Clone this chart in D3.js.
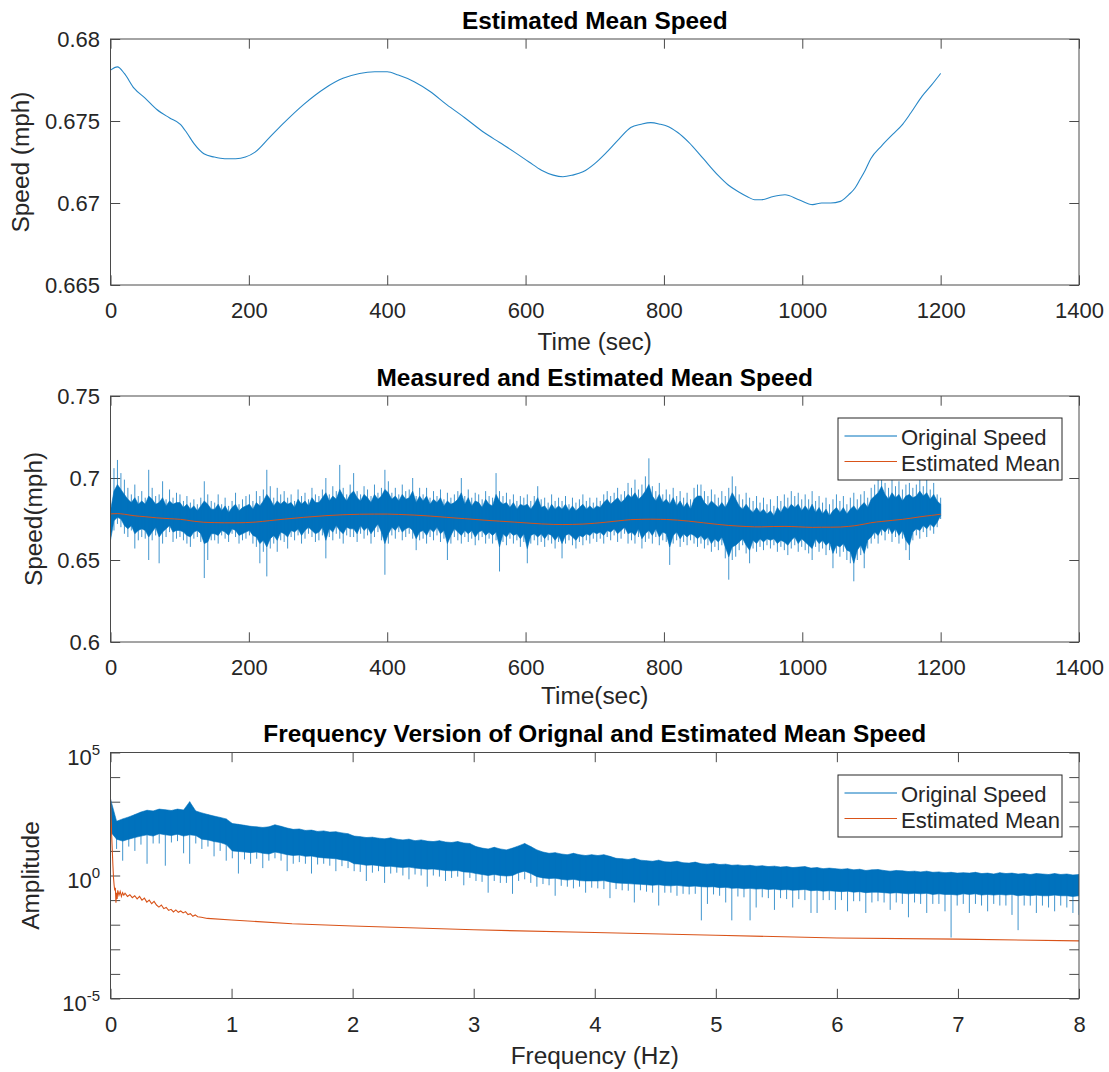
<!DOCTYPE html>
<html><head><meta charset="utf-8">
<script src="https://cdn.jsdelivr.net/npm/d3@7"></script>
<style>
html,body{margin:0;padding:0;background:#fff;}
svg{display:block;font-family:"Liberation Sans",Arial,Helvetica,sans-serif;}
</style></head><body>
<svg id="fig" width="1109" height="1072"></svg>
<script>
// ---- Estimated mean speed (smooth trend), time in seconds ----
const meanTime = [0,10,20,34,50,67,85,101,110,121,135,150,165,181,195,209,230,251,279,310,336,360,382,400,416,439,462,486,512,540,562,584,605,623,640,654,668,683,700,715,735,752,767,781,795,804,820,836,857,878,893,907,920,931,941,958,975,995,1015,1028,1041,1055,1067,1076,1083,1091,1099,1115,1131,1145,1157,1173,1187,1200];
const meanSpeed = [.6781,.6783,.6779,.6770,.6764,.6757,.6752,.6748,.6743,.6736,.6730,.6728,.6727,.6727,.6728,.6731,.6740,.6749,.6760,.6770,.6776,.6779,.6780,.6780,.6778,.6774,.6768,.6760,.6752,.6743,.6737,.6731,.6725,.6720,.6717,.6716,.6717,.6719,.6724,.6730,.6739,.6746,.6748,.6749,.6748,.6747,.6743,.6737,.6727,.6717,.6711,.6707,.6704,.6702,.6702,.6704,.6705,.6702,.6699,.6700,.6700,.6701,.6705,.6709,.6714,.6720,.6727,.6735,.6742,.6748,.6755,.6765,.6772,.6779];

// ---- Measured speed, 240 bins of 5 s over 0-1200 s (mph) ----
// highest / lowest sample in each bin
const speedHigh = [
.690,.706,.711,.703,.699,.694,.690,.696,.689,.692, .688,.705,.694,.689,.690,.698,.687,.693,.688,.691,
.690,.686,.689,.685,.687,.684,.688,.698,.690,.686, .685,.690,.684,.688,.683,.686,.691,.684,.687,.689,
.690,.686,.692,.689,.693,.705,.695,.688,.694,.690, .692,.688,.690,.686,.693,.689,.691,.687,.694,.690,
.689,.693,.700,.690,.695,.692,.708,.694,.690,.696, .703,.692,.690,.695,.693,.689,.696,.691,.694,.705,
.698,.691,.694,.690,.696,.692,.693,.700,.689,.694, .690,.694,.688,.692,.689,.693,.687,.691,.688,.690,
.692,.700,.689,.693,.688,.691,.690,.687,.692,.689, .688,.703,.692,.689,.691,.687,.690,.686,.689,.688,
.690,.686,.689,.695,.687,.688,.685,.690,.686,.688, .686,.689,.684,.688,.685,.687,.690,.686,.688,.685,
.688,.686,.690,.692,.689,.691,.694,.690,.692,.697, .694,.699,.693,.696,.701,.712,.695,.692,.697,.690,
.693,.690,.694,.689,.692,.688,.691,.687,.694,.696, .696,.692,.689,.693,.690,.688,.692,.689,.694,.701,
.695,.690,.687,.691,.688,.686,.689,.685,.688,.684, .687,.683,.689,.686,.690,.688,.692,.689,.691,.687,
.690,.687,.692,.686,.689,.685,.688,.684,.687,.690, .686,.689,.684,.688,.691,.687,.690,.692,.688,.694,
.696,.699,.708,.697,.694,.699,.695,.698,.693,.696, .697,.694,.696,.700,.695,.699,.693,.697,.690,.688];
const speedLow = [
.655,.668,.672,.670,.666,.664,.668,.657,.662,.664, .663,.650,.662,.665,.648,.660,.664,.667,.661,.663,
.664,.662,.660,.658,.663,.664,.661,.639,.650,.662, .662,.660,.665,.663,.661,.666,.664,.660,.662,.663,
.665,.660,.658,.648,.655,.640,.657,.660,.655,.662, .661,.657,.664,.662,.665,.660,.663,.666,.664,.661,
.662,.665,.651,.664,.662,.666,.663,.660,.665,.664, .664,.661,.666,.663,.665,.660,.664,.667,.662,.641,
.660,.665,.663,.667,.662,.664,.666,.663,.656,.662, .663,.660,.664,.662,.665,.661,.663,.650,.660,.664,
.662,.660,.664,.661,.663,.659,.662,.664,.660,.663, .660,.662,.643,.661,.659,.663,.660,.662,.658,.661,
.648,.660,.662,.659,.661,.658,.662,.660,.657,.661, .651,.660,.662,.659,.657,.661,.659,.662,.660,.663,
.661,.663,.660,.664,.662,.665,.661,.663,.666,.660, .662,.660,.664,.657,.661,.663,.660,.664,.659,.662,
.661,.647,.660,.662,.658,.661,.659,.662,.660,.658, .660,.657,.659,.655,.658,.656,.659,.651,.638,.650,
.652,.656,.659,.654,.648,.657,.655,.658,.656,.659, .657,.659,.655,.658,.656,.653,.657,.659,.655,.658,
.656,.654,.650,.658,.655,.657,.653,.656,.645,.654, .652,.655,.650,.648,.637,.650,.653,.645,.657,.660,
.663,.660,.665,.662,.666,.661,.664,.660,.663,.656, .650,.662,.665,.663,.667,.664,.668,.666,.670,.675];
// upper / lower edge of the dense bulk of samples in each bin
const speedCoreHigh = [
.680,.692,.696,.693,.690,.687,.685,.688,.684,.686, .684,.689,.687,.684,.685,.688,.683,.686,.684,.685,
.685,.682,.684,.681,.683,.680,.683,.686,.684,.681, .681,.684,.680,.683,.679,.682,.684,.680,.682,.683,
.684,.681,.685,.683,.686,.690,.687,.683,.686,.684, .686,.684,.685,.682,.687,.684,.686,.683,.688,.685,
.685,.688,.691,.686,.689,.687,.693,.689,.686,.690, .692,.688,.686,.690,.688,.685,.690,.687,.689,.693,
.691,.687,.689,.686,.690,.687,.688,.692,.685,.689, .686,.689,.684,.687,.685,.688,.683,.686,.684,.685,
.687,.691,.684,.688,.683,.686,.685,.682,.687,.684, .683,.690,.686,.684,.685,.682,.685,.681,.684,.683,
.684,.681,.684,.688,.682,.683,.680,.684,.681,.683, .681,.684,.680,.683,.680,.682,.684,.681,.683,.681,
.683,.682,.685,.687,.684,.686,.688,.685,.687,.690, .688,.691,.687,.689,.692,.696,.689,.686,.690,.685,
.687,.684,.688,.683,.686,.682,.685,.681,.687,.689, .689,.685,.683,.686,.684,.682,.685,.682,.686,.691,
.687,.683,.681,.684,.681,.679,.682,.679,.681,.678, .680,.677,.682,.679,.683,.681,.684,.682,.684,.680,
.683,.680,.684,.679,.682,.678,.681,.677,.680,.682, .679,.682,.678,.681,.683,.680,.683,.685,.682,.687,
.689,.691,.695,.690,.687,.691,.688,.690,.686,.689, .690,.688,.689,.692,.689,.691,.687,.690,.686,.684];
const speedCoreLow = [
.662,.674,.676,.675,.671,.669,.671,.666,.668,.669, .668,.664,.667,.670,.664,.667,.669,.671,.667,.668,
.668,.667,.665,.664,.667,.668,.666,.660,.661,.666, .666,.665,.668,.667,.665,.669,.668,.665,.666,.667,
.668,.665,.664,.660,.662,.658,.663,.665,.662,.667, .666,.664,.668,.667,.669,.665,.668,.670,.668,.666,
.667,.670,.662,.669,.667,.671,.668,.666,.670,.669, .669,.666,.671,.668,.670,.666,.669,.672,.667,.660,
.666,.670,.668,.671,.667,.669,.670,.668,.663,.667, .668,.665,.669,.667,.670,.666,.668,.660,.665,.669,
.667,.665,.668,.666,.668,.664,.667,.668,.665,.667, .665,.667,.658,.666,.664,.667,.665,.666,.663,.666,
.657,.665,.666,.664,.666,.663,.666,.665,.662,.665, .660,.665,.666,.664,.662,.665,.664,.666,.665,.667,
.666,.667,.665,.668,.667,.669,.666,.668,.670,.666, .667,.665,.669,.663,.666,.668,.665,.669,.664,.667,
.666,.658,.665,.667,.663,.666,.664,.666,.665,.663, .665,.662,.664,.660,.663,.661,.664,.658,.652,.658,
.659,.661,.663,.659,.656,.662,.660,.663,.661,.663, .662,.663,.660,.662,.661,.659,.662,.664,.660,.663,
.661,.659,.657,.663,.660,.662,.659,.661,.654,.659, .658,.660,.656,.655,.648,.656,.659,.654,.662,.664,
.667,.665,.669,.667,.670,.666,.669,.665,.668,.662, .659,.667,.669,.668,.671,.669,.672,.670,.673,.677];

// ---- Spectrum of measured speed, 160 bins over 0-8 Hz ----
// upper edge of the band in each bin
const specHigh = [
1300,160,200,240,300,380,450,420,500,470,440,500,460,1000,420,350,300,260,230,200,
130,120,110,100,95,90,95,115,100,85,75,78,68,70,62,65,58,60,54,50,
40,38,35,36,33,31,34,30,28,30,26,28,25,24,26,23,22,24,21,20,
15,13,12,14,12,11,13,16,20,15,11,9,8,8.5,7.5,7,8,7,6.5,7,
6.5,7,6,5,4.8,4.5,5,4.2,4,3.8,4.2,3.6,3.5,3.8,3.3,3.2,3.5,3,2.9,3.1,
2.8,2.9,2.6,2.7,2.5,2.6,2.4,2.5,2.3,2.4,2.2,2.3,2.1,2.2,2.3,2.0,2.1,1.9,2.0,1.9,
1.8,1.9,1.7,1.8,1.6,1.7,1.75,1.6,1.5,1.6,1.55,1.45,1.5,1.4,1.5,1.35,1.4,1.3,1.35,1.25,
1.3,1.25,1.35,1.2,1.25,1.15,1.3,1.2,1.25,1.15,1.2,1.1,1.2,1.15,1.1,1.2,1.1,1.15,1.05,1.1];
// lower edge of the dense band in each bin
const specCoreLow = [
60,30,25,30,35,40,45,40,50,45,42,48,40,45,42,30,28,24,22,18,
10,9.5,9,8.5,9,8,7.5,9,8,7,6.5,6.8,6,6.2,5.5,5.2,5,4.8,4.3,4,
3,2.9,2.6,2.7,2.5,2.3,2.4,2.2,2.1,2.2,2,1.9,1.8,1.85,1.7,1.6,1.55,1.6,1.4,1.35,
1.2,1.1,1,1.1,1,0.95,1,1.3,1.5,1.2,0.9,0.8,0.75,0.78,0.7,0.65,0.7,0.62,0.6,0.6,
0.6,0.62,0.55,0.5,0.48,0.47,0.45,0.44,0.42,0.4,0.42,0.39,0.38,0.4,0.37,0.36,0.37,0.35,0.34,0.35,
0.32,0.33,0.3,0.31,0.29,0.3,0.28,0.29,0.27,0.28,0.26,0.27,0.25,0.26,0.27,0.24,0.25,0.23,0.24,0.23,
0.22,0.23,0.21,0.22,0.2,0.21,0.21,0.2,0.19,0.2,0.19,0.18,0.19,0.18,0.19,0.17,0.18,0.17,0.17,0.16,
0.18,0.17,0.18,0.16,0.17,0.16,0.17,0.16,0.17,0.15,0.16,0.15,0.16,0.15,0.15,0.16,0.15,0.15,0.14,0.15];
// lowest value in each bin
const specLow = [
40,12,4,15,10,18,3,20,20,2.5,22,25,8,3,20,12,15,6,10,4,
5,1.2,4.5,3,4.8,2,4,5,4,1.5,3,3.5,3,1.2,2.8,3,2.5,1.5,2.4,2,
1.5,1.4,0.6,1.3,1.5,0.5,1.2,1.3,1,0.7,1.1,1,0.35,1,0.9,0.6,0.8,0.9,0.4,0.8,
0.6,0.55,0.2,0.6,0.5,0.5,0.18,0.6,0.7,0.5,0.35,0.45,0.4,0.15,0.38,0.35,0.3,0.35,0.2,0.32,
0.3,0.28,0.12,0.28,0.25,0.24,0.08,0.25,0.22,0.2,0.06,0.2,0.2,0.15,0.18,0.17,0.18,0.015,0.07,0.17,
0.15,0.08,0.015,0.14,0.13,0.015,0.05,0.13,0.12,0.04,0.12,0.11,0.05,0.11,0.1,0.03,0.03,0.1,0.1,0.04,
0.1,0.035,0.09,0.09,0.03,0.08,0.09,0.08,0.04,0.08,0.07,0.02,0.08,0.07,0.03,0.07,0.07,0.035,0.003,0.06,
0.07,0.03,0.07,0.06,0.035,0.07,0.06,0.06,0.025,0.006,0.06,0.06,0.03,0.06,0.05,0.035,0.06,0.05,0.03,0.025];

// ---- Spectrum of the estimated mean ----
const estFreq = [0,0.005,0.01,0.015,0.02,0.025,0.03,0.035,0.04,0.045,0.05,0.055,0.06,0.07,0.08,0.09,0.1,0.11,0.12,0.14,0.16,0.18,0.2,0.22,0.24,0.26,0.28,0.3,0.32,0.34,0.36,0.38,0.4,0.42,0.44,0.46,0.48,0.5,0.52,0.54,0.56,0.58,0.6,0.62,0.64,0.66,0.68,0.7,0.72,0.75,0.8,1,1.5,2,3,4,5,6,7,8];
const estAmp = [1260,200,40,10,2.5,0.79,0.4,0.25,0.32,0.079,0.2,0.112,0.25,0.158,0.224,0.141,0.2,0.158,0.19,0.141,0.166,0.126,0.151,0.112,0.141,0.1,0.12,0.083,0.1,0.071,0.089,0.063,0.052,0.063,0.045,0.05,0.038,0.042,0.033,0.04,0.032,0.036,0.03,0.034,0.026,0.028,0.022,0.025,0.021,0.02,0.018,0.0155,0.011,0.0089,0.0062,0.0048,0.0037,0.0029,0.0026,0.0022];

// ---- Tick values ----
const timeTicks = [0,200,400,600,800,1000,1200,1400];
const topSpeedTicks = [0.665,0.67,0.675,0.68];
const midSpeedTicks = [0.6,0.65,0.7,0.75];
const freqTicks = [0,1,2,3,4,5,6,7,8];
const ampTicks = [1e-5,1e-4,1e-3,1e-2,1e-1,1,1e1,1e2,1e3,1e4,1e5];
const ampLabelled = [1e-5,1,1e5];
const legendNames = ["Original Speed","Estimated Mean"];

const svg = d3.select("#fig");
const LEFT = 110.5, RIGHT = 1079;
const BLUE = "#0072BD", ORANGE = "#D95319", INK = "#262626", BOX = "#4a4a4a";
const TICK = 9.7, FS = 22, LFS = 24.4;

function panel(cfg) {
  const g = svg.append("g");
  const x = cfg.x.range([LEFT, RIGHT]);
  const y = cfg.y.range([cfg.bottom, cfg.top]);
  const clipId = "clip" + Math.round(cfg.top);
  svg.append("clipPath").attr("id", clipId).append("rect")
    .attr("x", LEFT).attr("y", cfg.top).attr("width", RIGHT - LEFT).attr("height", cfg.bottom - cfg.top);

  const style = sel => {
    sel.attr("font-size", FS).attr("font-family", null);
    sel.select(".domain").remove();
    sel.selectAll(".tick line").attr("stroke", BOX).attr("stroke-width", 1);
    sel.selectAll(".tick text").attr("fill", INK);
  };
  g.append("g").attr("transform", `translate(0,${cfg.bottom})`)
    .call(d3.axisBottom(x).tickValues(cfg.xTicks).tickSizeInner(-TICK).tickSizeOuter(0).tickPadding(17.5).tickFormat(d => String(d)))
    .call(style);
  g.append("g").attr("transform", `translate(0,${cfg.top})`)
    .call(d3.axisTop(x).tickValues(cfg.xTicks).tickSizeInner(-TICK).tickSizeOuter(0).tickFormat(""))
    .call(style);
  const yl = g.append("g").attr("transform", `translate(${LEFT},0)`)
    .call(d3.axisLeft(y).tickValues(cfg.yTicks).tickSizeInner(-TICK).tickSizeOuter(0).tickPadding(10.5).tickFormat(cfg.yFmt || (d => String(d))))
    .call(style);
  yl.selectAll(".tick text").attr("dy", "0.36em");
  g.append("g").attr("transform", `translate(${RIGHT},0)`)
    .call(d3.axisRight(y).tickValues(cfg.yTicks).tickSizeInner(-TICK).tickSizeOuter(0).tickFormat(""))
    .call(style);

  const plot = g.append("g").attr("clip-path", `url(#${clipId})`);
  g.append("rect").attr("x", LEFT).attr("y", cfg.top).attr("width", RIGHT - LEFT).attr("height", cfg.bottom - cfg.top)
    .attr("fill", "none").attr("stroke", BOX).attr("stroke-width", 1);

  g.append("text").attr("x", (LEFT + RIGHT) / 2).attr("y", cfg.top - 10.5).attr("text-anchor", "middle")
    .attr("font-size", LFS).attr("font-weight", "bold").attr("fill", "#000").text(cfg.title);
  g.append("text").attr("x", (LEFT + RIGHT) / 2).attr("y", cfg.bottom + cfg.xlabelDy).attr("text-anchor", "middle")
    .attr("font-size", LFS).attr("fill", INK).text(cfg.xlabel);
  g.append("text").attr("transform", `translate(${cfg.ylabelX},${(cfg.top + cfg.bottom) / 2}) rotate(-90)`)
    .attr("text-anchor", "middle").attr("font-size", LFS).attr("fill", INK).text(cfg.ylabel);
  return {g, plot, x, y, yl};
}

function legend(g, top) {
  const L = 838, R = 1062;
  g.append("rect").attr("x", L).attr("y", top).attr("width", R - L).attr("height", 62)
    .attr("fill", "#fff").attr("stroke", INK).attr("stroke-width", 1);
  [BLUE, ORANGE].forEach((c, i) => {
    const base = top + 27 + i * 25.5;
    g.append("line").attr("x1", 844.5).attr("x2", 897).attr("y1", base - 9).attr("y2", base - 9)
      .attr("stroke", c).attr("stroke-width", 1);
    g.append("text").attr("x", 901).attr("y", base).attr("font-size", FS).attr("fill", INK).text(legendNames[i]);
  });
}

// Dense signal drawn per bin: a solid band between the bulk edges,
// plus a thin stroke from each bin's lowest to highest value.
function denseSignal(p, span, high, low, coreHigh, coreLow) {
  const n = high.length, pos = i => p.x(i * span / (n - 1));
  const rows = high.map((h, i) => ({i, h, l: low[i], ch: coreHigh[i], cl: coreLow[i]}));
  p.plot.append("path").datum(rows)
    .attr("fill", BLUE).attr("stroke", BLUE).attr("stroke-width", 0.6)
    .attr("d", d3.area().x(d => pos(d.i)).y0(d => p.y(d.cl)).y1(d => p.y(d.ch)));
  p.plot.append("g").selectAll("line").data(rows).join("line")
    .attr("x1", d => pos(d.i)).attr("x2", d => pos(d.i))
    .attr("y1", d => p.y(d.h)).attr("y2", d => p.y(d.l))
    .attr("stroke", BLUE).attr("stroke-width", 1).attr("stroke-opacity", 0.75);
}

// ---- Panel 1: estimated mean speed ----
const p1 = panel({
  top: 39, bottom: 285, x: d3.scaleLinear().domain([0, 1400]), y: d3.scaleLinear().domain([0.665, 0.68]),
  xTicks: timeTicks, yTicks: topSpeedTicks, title: "Estimated Mean Speed",
  xlabel: "Time (sec)", xlabelDy: 65, ylabel: "Speed (mph)", ylabelX: 29
});
p1.plot.append("path").datum(d3.zip(meanTime, meanSpeed))
  .attr("fill", "none").attr("stroke", BLUE).attr("stroke-width", 1.1).attr("stroke-opacity", 0.85)
  .attr("d", d3.line().x(d => p1.x(d[0])).y(d => p1.y(d[1])).curve(d3.curveMonotoneX));

// ---- Panel 2: measured vs estimated mean speed ----
const p2 = panel({
  top: 396, bottom: 642, x: d3.scaleLinear().domain([0, 1400]), y: d3.scaleLinear().domain([0.6, 0.75]),
  xTicks: timeTicks, yTicks: midSpeedTicks, title: "Measured and Estimated Mean Speed",
  xlabel: "Time(sec)", xlabelDy: 62, ylabel: "Speed(mph)", ylabelX: 41.5
});
denseSignal(p2, 1200, speedHigh, speedLow, speedCoreHigh, speedCoreLow);
p2.plot.append("path").datum(d3.zip(meanTime, meanSpeed))
  .attr("fill", "none").attr("stroke", ORANGE).attr("stroke-width", 1)
  .attr("d", d3.line().x(d => p2.x(d[0])).y(d => p2.y(d[1])).curve(d3.curveMonotoneX));
legend(p2.g, 418);

// ---- Panel 3: spectra (log amplitude) ----
const p3 = panel({
  top: 752.5, bottom: 998.5, x: d3.scaleLinear().domain([0, 8]), y: d3.scaleLog().domain([1e-5, 1e5]),
  xTicks: freqTicks, yTicks: ampTicks, title: "Frequency Version of Orignal and Estimated Mean Speed",
  xlabel: "Frequency (Hz)", xlabelDy: 65, ylabel: "Amplitude", ylabelX: 39,
  yFmt: () => ""
});
// power-of-ten labels with superscript exponents
p3.yl.selectAll(".tick").each(function (d) {
  if (!ampLabelled.some(v => Math.abs(Math.log10(v) - Math.log10(d)) < 1e-9)) return;
  const t = d3.select(this).select("text").attr("dy", null).attr("y", 12);
  t.text(null);
  t.append("tspan").text("10");
  t.append("tspan").attr("font-size", 15).attr("dy", -10).text(String(Math.round(Math.log10(d))));
});
denseSignal(p3, 8, specHigh, specLow, specHigh, specCoreLow);
p3.plot.append("path").datum(d3.zip(estFreq, estAmp))
  .attr("fill", "none").attr("stroke", ORANGE).attr("stroke-width", 1.1)
  .attr("d", d3.line().x(d => p3.x(d[0])).y(d => p3.y(d[1])));
legend(p3.g, 775);
</script>
</body></html>
